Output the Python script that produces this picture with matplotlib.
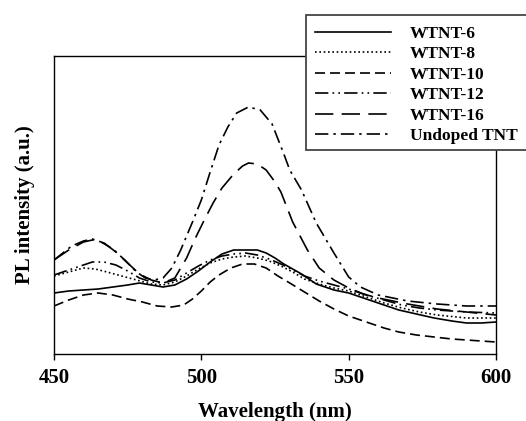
import numpy as np
import matplotlib.pyplot as plt
from matplotlib.patches import Rectangle

plt.rcParams['font.family'] = ['Liberation Serif', 'DejaVu Serif']
plt.rcParams['font.weight'] = 'bold'

# PL spectra (arbitrary units)
wl_6 = [450, 455, 460, 465, 470, 475, 479, 483, 487, 491, 495, 499, 503, 507, 511, 515, 519, 522, 525, 528,
        531, 534, 539, 545, 550, 556, 562, 567, 573, 579, 585, 590, 595, 600]
pl_6 = [61, 63, 64, 65, 67, 69, 71, 69, 67, 69, 75, 83, 92, 100, 104, 104, 104, 101, 96, 90,
        85, 80, 70, 64, 61, 55, 49, 44, 40, 36, 33, 31, 31, 32]

wl_8 = [450, 455, 460, 464, 468, 473, 478, 483, 487, 491, 495, 499, 503, 507, 511, 515, 519, 523, 527, 531,
        535, 540, 545, 550, 556, 562, 568, 574, 580, 590, 600]
pl_8 = [78, 82, 86, 85, 82, 78, 74, 70, 69, 72, 78, 85, 91, 95, 97, 98, 96, 93, 88, 82,
        75, 70, 66, 63, 57, 51, 46, 42, 39, 36, 36]

wl_10 = [450, 455, 460, 465, 470, 475, 480, 485, 490, 494, 497, 500, 503, 506, 510, 514, 518, 522, 526, 530,
         535, 540, 545, 550, 556, 562, 567, 573, 579, 585, 590, 595, 600]
pl_10 = [48, 54, 59, 61, 59, 55, 52, 48, 47, 49, 55, 63, 72, 79, 86, 90, 90, 86, 78, 71,
         62, 53, 45, 38, 32, 26, 22, 19, 17, 15, 14, 13, 12]

wl_12 = [450, 455, 460, 463, 467, 471, 475, 479, 483, 487, 491, 495, 499, 503, 507, 511, 515, 519, 523, 527,
         531, 535, 540, 545, 550, 556, 562, 568, 574, 580, 590, 600]
pl_12 = [79, 84, 89, 92, 92, 89, 83, 76, 72, 71, 74, 81, 88, 94, 98, 100, 101, 99, 95, 90,
         84, 78, 73, 69, 65, 59, 54, 49, 46, 44, 42, 41]

wl_16 = [450, 455, 460, 463, 467, 471, 475, 479, 483, 487, 491, 495, 498, 501, 504, 507, 511, 514, 516, 519,
         522, 525, 527, 531, 536, 540, 545, 550, 555, 560, 570, 580, 590, 600]
pl_16 = [94, 104, 112, 114, 111, 102, 91, 80, 74, 71, 76, 96, 116, 134, 151, 166, 180, 188, 191, 190,
         184, 172, 162, 132, 104, 86, 74, 66, 60, 56, 50, 45, 42, 39]

wl_un = [450, 453, 456, 460, 463, 466, 470, 474, 478, 481, 484, 487, 490, 493, 497, 500, 503, 506, 509, 512,
         516, 520, 524, 528, 530, 534, 539, 545, 550, 554, 560, 570, 580, 590, 600]
pl_un = [94, 101, 108, 113, 115, 112, 105, 94, 82, 76, 74, 76, 86, 104, 132, 154, 182, 209, 227, 241,
         247, 244, 230, 200, 184, 164, 131, 101, 77, 67, 59, 53, 50, 48, 48]

labels = ['WTNT-6', 'WTNT-8', 'WTNT-10', 'WTNT-12', 'WTNT-16', 'Undoped TNT']
xticks = [450, 500, 550, 600]

series = [(wl_6, pl_6), (wl_8, pl_8), (wl_10, pl_10), (wl_12, pl_12), (wl_16, pl_16), (wl_un, pl_un)]
styles = ['-', (0, (1, 1.6)), (0, (6, 3)), (0, (8, 2.5, 1, 2.5, 1, 2.5)), (0, (11, 5)), (0, (8, 3, 1.5, 3))]

fig = plt.figure(figsize=(5.26, 4.21), dpi=100)
ax = fig.add_axes([54/526, 1 - 354/421, 442/526, 298/421])

for (x, y), ls, lab in zip(series, styles, labels):
    ax.plot(x, y, color='black', linestyle=ls, linewidth=1.2, label=lab)

ax.set_xlim(450, 600)
ax.set_ylim(0, 298)
ax.set_xticks(xticks)
ax.set_xticklabels([str(t) for t in xticks], fontsize=15, fontweight='bold')
ax.tick_params(axis='x', direction='out', length=4, width=1, pad=6)
ax.set_yticks([])
for s in ax.spines.values():
    s.set_linewidth(1)
ax.set_xlabel('Wavelength (nm)', fontsize=15, fontweight='bold', labelpad=10)
ax.set_ylabel('PL intensity (a.u.)', fontsize=15, fontweight='bold', labelpad=14)

# legend box sticks out past the right edge of the figure
fig.patches.append(Rectangle((306/526, 1 - 150/421), 240/526, 135/421, transform=fig.transFigure,
                             facecolor='white', edgecolor='#444444', linewidth=1.3, zorder=3))
h, l = ax.get_legend_handles_labels()
fig.legend(h, l, loc='upper left', bbox_to_anchor=(306/526, 1 - 17/421), frameon=False,
           prop={'family': 'Liberation Serif', 'weight': 'bold', 'size': 12.5},
           handlelength=4.4, handletextpad=1.1, labelspacing=0.25, borderpad=0.5, borderaxespad=0)

fig.savefig('out.png', dpi=100)
